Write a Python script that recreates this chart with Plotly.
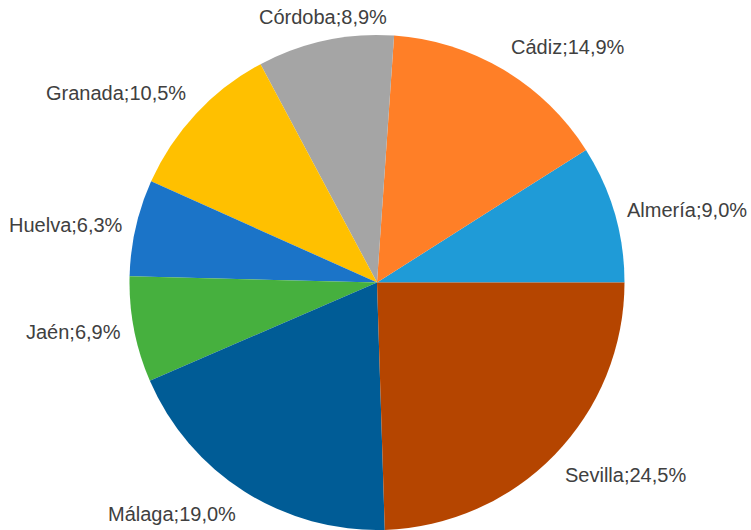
import math
import plotly.graph_objects as go

provinces = ["Almería", "Cádiz", "Córdoba", "Granada", "Huelva", "Jaén", "Málaga", "Sevilla"]
shares = [9.0, 14.9, 8.9, 10.5, 6.3, 6.9, 19.0, 24.5]
colors = ["#1F9BD7", "#FF7F27", "#A5A5A5", "#FFC000", "#1B74C8", "#46B03E", "#005C96", "#B54500"]

W, H = 751, 530
CX, CY, R = 377.0, 282.5, 247.5   # pie centre / radius in pixels
LABEL_GAP = 11

total = sum(shares)
first_frac = shares[0] / total
# plotly counterclockwise pies start the first slice's far edge at `rotation`
rotation = 90 - 360 * first_frac

fig = go.Figure(go.Pie(
    labels=provinces,
    values=shares,
    sort=False,
    direction="counterclockwise",
    rotation=rotation,
    marker=dict(colors=colors, line=dict(width=0)),
    textinfo="none",
    domain=dict(x=[(CX - R) / W, (CX + R) / W], y=[(H - CY - R) / H, (H - CY + R) / H]),
    showlegend=False,
    hoverinfo="label+percent",
))

# Excel-style outside-end labels, placed from each slice's mid angle
annotations = []
cum = 0.0
for name, v in zip(provinces, shares):
    mid = (cum + v / 2) / total * 2 * math.pi  # counterclockwise from east
    cum += v
    c, s = math.cos(mid), math.sin(mid)
    rr = R + LABEL_GAP
    px = CX + rr * c
    py = CY - rr * s
    xa = "left" if c > 0.4 else ("right" if c < -0.4 else "center")
    ya = "bottom" if s > 0.45 else ("top" if s < -0.45 else "middle")
    pct = f"{v / total * 100:.1f}".replace(".", ",")
    annotations.append(dict(
        x=px / W, y=(H - py) / H, xref="paper", yref="paper",
        text=f"{name};{pct}%", showarrow=False,
        xanchor=xa, yanchor=ya,
        font=dict(family="Liberation Sans, Arial, sans-serif", size=20, color="#404040"),
    ))

fig.update_layout(
    width=W, height=H,
    margin=dict(l=0, r=0, t=0, b=0),
    paper_bgcolor="white",
    plot_bgcolor="white",
    annotations=annotations,
)

fig.write_html("out.html")
